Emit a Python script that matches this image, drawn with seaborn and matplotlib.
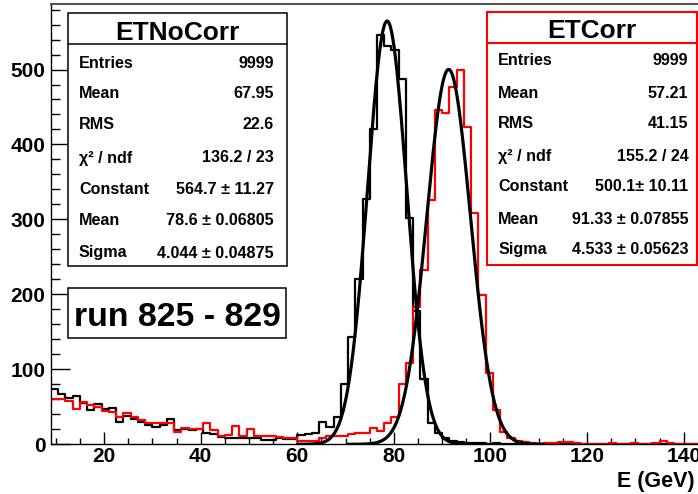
import numpy as np
import pandas as pd
import matplotlib
matplotlib.use("Agg")
import matplotlib.pyplot as plt
import seaborn as sns
from matplotlib.patches import Rectangle
from matplotlib.lines import Line2D
from matplotlib.ticker import FixedLocator, MultipleLocator

# ---------------- data ----------------
bin_edges = [float(v) for v in np.arange(9, 144.01, 1.5)]

et_nocorr = [74, 67, 62, 65, 55, 46, 54, 47, 49, 30,
             38, 34, 30, 26, 23, 26, 34, 19, 21, 19,
             20, 15, 14, 10, 9, 9, 9, 8, 8, 6,
             6, 9, 7, 7, 12, 14, 15, 30, 23,
             37, 80, 143, 221, 327, 421, 546, 532, 526, 487,
             302, 178, 87, 28, 15, 8, 4, 3, 2, 2, 2, 1, 2, 1, 1,
             0, 1, 0, 0, 1, 0, 0, 0, 1, 0, 0, 0, 0, 0, 1, 0, 0, 0, 0, 0,
             0, 0, 1, 0, 0, 0]

et_corr = [61, 60, 58, 47, 56, 52, 50, 45, 43, 37,
           42, 37, 32, 29, 28, 29, 29, 17, 22, 21,
           21, 28, 19, 11, 12, 25, 11, 20, 11, 11,
           11, 10, 8, 8, 5, 5, 5, 8, 11,
           11, 11, 14, 15, 15, 22, 18, 28, 37, 81,
           108, 183, 232, 326, 446, 442, 477, 499, 423, 308, 199, 95, 46, 17, 8,
           4, 3, 2, 1, 2, 2, 3, 3, 2, 1, 1, 1, 1, 2, 1, 1, 2, 1, 1, 2,
           5, 2, 1, 1, 1, 1]

x_ticks = [20, 40, 60, 80, 100, 120, 140]
y_ticks = [0, 100, 200, 300, 400, 500]

# gaussian fit results (Constant, Mean, Sigma) and fit ranges
fit_nocorr = [564.7, 78.6, 4.044]
fit_nocorr_range = [60.0, 99.0]
fit_corr = [500.1, 91.33, 4.533]
fit_corr_range = [70.5, 111.0]

stat_labels = ["Entries", "Mean", "RMS", "\u03c7\u00b2 / ndf", "Constant", "Mean", "Sigma"]
stat_nocorr = ["9999", "67.95", "22.6", "136.2 / 23", "564.7 \u00b1 11.27",
               "78.6 \u00b1 0.06805", "4.044 \u00b1 0.04875"]
stat_corr = ["9999", "57.21", "41.15", "155.2 / 24", "500.1\u00b1 10.11",
             "91.33 \u00b1 0.07855", "4.533 \u00b1 0.05623"]

# ---------------- style ----------------
sns.set_style("white")
plt.rcParams["font.family"] = ["Liberation Sans", "DejaVu Sans"]
plt.rcParams["font.weight"] = "bold"
plt.rcParams["text.color"] = "black"
plt.rcParams["xtick.color"] = "black"
plt.rcParams["ytick.color"] = "black"
plt.rcParams["axes.labelcolor"] = "black"

W, H = 698, 494
fig = plt.figure(figsize=(W / 100, H / 100), dpi=100)
ax = fig.add_axes([51 / W, 1 - 444.3 / H, (703 - 51) / W, (444.3 - 4.3) / H])

centers = [(a + b) / 2 for a, b in zip(bin_edges[:-1], bin_edges[1:])]
df_b = pd.DataFrame({"E": centers, "count": et_nocorr})
df_r = pd.DataFrame({"E": centers, "count": et_corr})

sns.histplot(data=df_b, x="E", weights="count", bins=bin_edges, element="step",
             fill=False, color="black", linewidth=1.6, ax=ax)
sns.histplot(data=df_r, x="E", weights="count", bins=bin_edges, element="step",
             fill=False, color="#ff0000", linewidth=1.6, ax=ax)


def gauss_curve(p, rng):
    xs = np.linspace(rng[0], rng[1], 400)
    return xs, p[0] * np.exp(-0.5 * ((xs - p[1]) / p[2]) ** 2)


for p, rng in [(fit_nocorr, fit_nocorr_range), (fit_corr, fit_corr_range)]:
    xs, ys = gauss_curve(p, rng)
    sns.lineplot(x=xs, y=ys, color="black", linewidth=2.3, ax=ax, zorder=4)

ax.set_xlim(9, 144)
ax.set_ylim(0, 587)
ax.set_xlabel("")
ax.set_ylabel("")

ax.xaxis.set_major_locator(FixedLocator(x_ticks))
ax.xaxis.set_minor_locator(MultipleLocator(5))
ax.yaxis.set_major_locator(FixedLocator(y_ticks))
ax.yaxis.set_minor_locator(MultipleLocator(20))
ax.tick_params(axis="x", which="major", direction="in", length=8.6, width=1.0,
               labelsize=15, pad=2, bottom=True, colors="black")
ax.tick_params(axis="x", which="minor", direction="in", length=4.3, width=1.0,
               bottom=True, colors="black")
ax.tick_params(axis="y", which="major", direction="in", length=13.5, width=1.0,
               labelsize=15, pad=4, left=True, colors="black")
ax.tick_params(axis="y", which="minor", direction="in", length=6.5, width=1.0,
               left=True, colors="black")
for lab in ax.get_xticklabels() + ax.get_yticklabels():
    lab.set_fontweight("bold")

for s in ["left", "bottom"]:
    ax.spines[s].set_color("black")
    ax.spines[s].set_linewidth(1.0)
ax.spines["top"].set_color("#555555")
ax.spines["top"].set_linewidth(1.5)
ax.spines["right"].set_visible(False)

fig.text(695 / W, 1 - 481 / H, "E (GeV)", ha="right", va="center",
         fontsize=15.5, fontweight="bold", color="black")


# ---------------- stat boxes ----------------
def box(x0, y0, x1, y1, color, lw):
    fig.add_artist(Rectangle((x0 / W, 1 - y1 / H), (x1 - x0) / W, (y1 - y0) / H,
                             transform=fig.transFigure, facecolor="white",
                             edgecolor=color, linewidth=lw, zorder=5))


def hline(x0, x1, y, color, lw):
    fig.add_artist(Line2D([x0 / W, x1 / W], [1 - y / H, 1 - y / H],
                          transform=fig.transFigure, color=color, linewidth=lw, zorder=6))


def txt(x, y, s, ha, size):
    fig.text(x / W, 1 - y / H, s, ha=ha, va="center_baseline", fontsize=size,
             fontweight="bold", color="black", zorder=7)


# left box ETNoCorr
box(68.3, 13.3, 286.7, 266, "black", 1.1)
hline(68.3, 286.7, 44.3, "black", 1.1)
txt(177.5, 30, "ETNoCorr", "center", 19)
rows_l = [60, 90.7, 121.7, 155, 186, 217.3, 250]
for yy, lab, val in zip(rows_l, stat_labels, stat_nocorr):
    txt(79, yy + 1.5, lab, "left", 11.6)
    txt(274, yy + 1.5, val, "right", 11.6)

# right box ETCorr
box(487.3, 12.3, 696.5, 265, "#ff0000", 1.5)
hline(487.3, 696.5, 43.3, "#ff0000", 1.5)
txt(591.7, 29, "ETCorr", "center", 19)
rows_r = [57.7, 90, 120.7, 153.3, 183.3, 216, 246.7]
for yy, lab, val in zip(rows_r, stat_labels, stat_corr):
    txt(498.3, yy + 1.5, lab, "left", 11.6)
    txt(688.3, yy + 1.5, val, "right", 11.6)

# run label
box(68.3, 288.3, 285.7, 338.3, "black", 1.1)
txt(177, 314, "run 825 - 829", "center", 24.4)

fig.savefig("out.png", dpi=100, facecolor="white")
